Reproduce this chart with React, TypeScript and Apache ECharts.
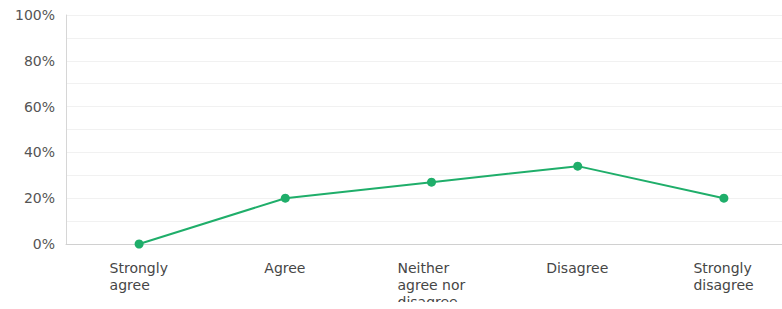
import React, { useEffect, useRef } from "react";
import * as echarts from "echarts";

const categories: string[] = [
  "Strongly agree",
  "Agree",
  "Neither agree nor disagree",
  "Disagree",
  "Strongly disagree",
];
const categoryLines: string[][] = [
  ["Strongly", "agree"],
  ["Agree"],
  ["Neither", "agree nor", "disagree"],
  ["Disagree"],
  ["Strongly", "disagree"],
];
const values: number[] = [0, 20, 27, 34, 20];
const yTicks: number[] = [0, 20, 40, 60, 80, 100];

const FONT = "DejaVu Sans";
const FONT_SIZE = 14;

function measure(text: string): number {
  const c = document.createElement("canvas").getContext("2d");
  if (!c) return text.length * 8;
  c.font = `${FONT_SIZE}px "${FONT}"`;
  return c.measureText(text).width;
}

export default function App() {
  const ref = useRef<HTMLDivElement>(null);
  useEffect(() => {
    if (!ref.current) return;
    const chart = echarts.init(ref.current, undefined, { renderer: "svg" });
    const rich: Record<string, any> = {};
    categoryLines.forEach((lines, i) => {
      const w = Math.ceil(Math.max(...lines.map(measure)));
      rich["t" + i] = {
        width: w,
        align: "left",
        fontFamily: FONT,
        fontSize: FONT_SIZE,
        lineHeight: 17,
        color: "#464646",
      };
    });
    chart.setOption({
      animation: false,
      backgroundColor: "#ffffff",
      grid: {
        left: 66,
        right: -15,
        top: 15,
        bottom: 58,
        containLabel: false,
        outerBoundsMode: "none",
      },
      xAxis: {
        type: "category",
        data: categories,
        boundaryGap: true,
        axisLine: { show: true, lineStyle: { color: "#d0d0d0", width: 1 } },
        axisTick: { show: false },
        axisLabel: {
          margin: 15,
          interval: 0,
          hideOverlap: false,
          formatter: (_v: string, i: number) =>
            categoryLines[i].map((l) => `{t${i}|${l}}`).join("\n"),
          rich,
        },
      },
      yAxis: {
        type: "value",
        min: yTicks[0],
        max: yTicks[yTicks.length - 1],
        interval: 20,
        axisLine: { show: true, lineStyle: { color: "#d6d6d6", width: 1 } },
        axisTick: { show: false },
        splitLine: { show: true, lineStyle: { color: "#f1f1f1", width: 1 } },
        minorTick: { show: false, splitNumber: 2 },
        minorSplitLine: { show: true, lineStyle: { color: "#f1f1f1", width: 1 } },
        axisLabel: {
          margin: 11,
          fontFamily: FONT,
          fontSize: FONT_SIZE,
          color: "#555555",
          formatter: (v: number) => `${v}%`,
        },
      },
      series: [
        {
          type: "line",
          data: values,
          symbol: "circle",
          symbolSize: 9,
          lineStyle: { color: "#1fae6a", width: 2 },
          itemStyle: { color: "#1fae6a" },
        },
      ],
    });
    return () => chart.dispose();
  }, []);
  return (
    <div
      ref={ref}
      style={{ position: "fixed", left: 0, top: 0, width: 782, height: 302 }}
    />
  );
}
